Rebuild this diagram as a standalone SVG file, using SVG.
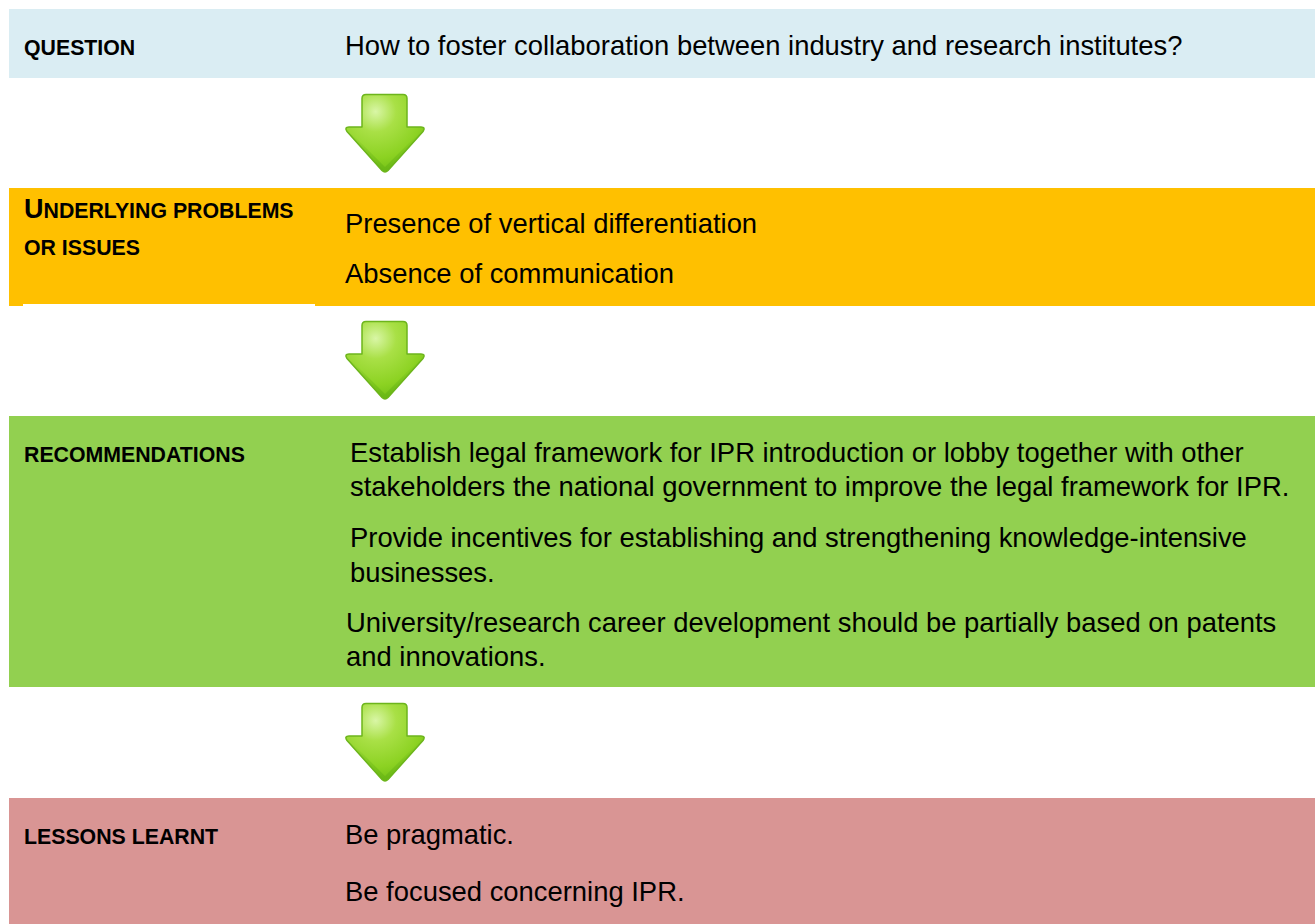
<svg xmlns="http://www.w3.org/2000/svg" width="1315" height="924" viewBox="0 0 1315 924">
  <style>
    .label { font-family: "Liberation Sans", Arial, sans-serif; font-weight: bold; font-size: 21.3px; fill: #000; }
    .cap { font-size: 27px; }
    .txt { font-family: "Liberation Sans", Arial, sans-serif; font-size: 27.4px; fill: #000; }
    .arrow { fill: url(#arrowFill); stroke: #6DB51C; stroke-width: 1.5; stroke-linejoin: round; }
    .arrowShade { fill: url(#arrowShade); }
  </style>
  <defs>
    <radialGradient id="arrowFill" cx="0.38" cy="0.22" r="0.75">
      <stop offset="0" stop-color="#D9F6A6"/>
      <stop offset="0.35" stop-color="#A9E046"/>
      <stop offset="0.8" stop-color="#8CD222"/>
      <stop offset="1" stop-color="#78C419"/>
    </radialGradient>
    <linearGradient id="arrowShade" x1="0" y1="0" x2="0" y2="1">
      <stop offset="0" stop-color="#5FAE12" stop-opacity="0"/>
      <stop offset="1" stop-color="#5FAE12" stop-opacity="0.55"/>
    </linearGradient>
    <symbol id="downArrow" viewBox="0 0 80 80" width="80" height="80" overflow="visible">
      <path class="arrow" d="M21,0.5 H58 Q62,0.5 62,4.5 V33 H76 Q81,33 78,37.5 L43,76.5 Q40,79.5 37,76.5 L2,37.5 Q-1,33 4,33 H17 V4.5 Q17,0.5 21,0.5 Z"/>
      <path class="arrowShade" d="M3,38 L37,76 Q40,79 43,76 L77,38 L73,40 L40,73 L7,40 Z"/>
    </symbol>
  </defs>

  <g id="question">
    <rect x="9" y="9" width="1306" height="69" fill="#DAEDF3"/>
    <text class="label" x="24" y="55">QUESTION</text>
    <text class="txt" x="345" y="55">How to foster collaboration between industry and research institutes?</text>
  </g>

  <g id="problems">
    <rect x="9" y="188" width="1306" height="118" fill="#FFC000"/>
    <rect x="23" y="304" width="292" height="2" fill="#FFFFFF"/>
    <text class="label" x="24" y="218"><tspan class="cap">U</tspan>NDERLYING PROBLEMS</text>
    <text class="label" x="24" y="255">OR ISSUES</text>
    <text class="txt" x="345" y="233">Presence of vertical differentiation</text>
    <text class="txt" x="345" y="283">Absence of communication</text>
  </g>

  <g id="recommendations">
    <rect x="9" y="416" width="1306" height="271" fill="#92D050"/>
    <text class="label" x="24" y="462">RECOMMENDATIONS</text>
    <text class="txt" x="350" y="462">Establish legal framework for IPR introduction or lobby together with other</text>
    <text class="txt" x="350" y="496">stakeholders the national government to improve the legal framework for IPR.</text>
    <text class="txt" x="350" y="547">Provide incentives for establishing and strengthening knowledge-intensive</text>
    <text class="txt" x="350" y="582">businesses.</text>
    <text class="txt" x="346" y="632">University/research career development should be partially based on patents</text>
    <text class="txt" x="346" y="666">and innovations.</text>
  </g>

  <g id="lessons">
    <rect x="9" y="798" width="1306" height="126" fill="#D99594"/>
    <text class="label" x="24" y="844">LESSONS LEARNT</text>
    <text class="txt" x="345" y="844">Be pragmatic.</text>
    <text class="txt" x="345" y="901">Be focused concerning IPR.</text>
  </g>

  <g id="connectors">
    <use href="#downArrow" x="345" y="94" width="80" height="80"/>
    <use href="#downArrow" x="345" y="321" width="80" height="80"/>
    <use href="#downArrow" x="345" y="703" width="80" height="80"/>
  </g>
</svg>
